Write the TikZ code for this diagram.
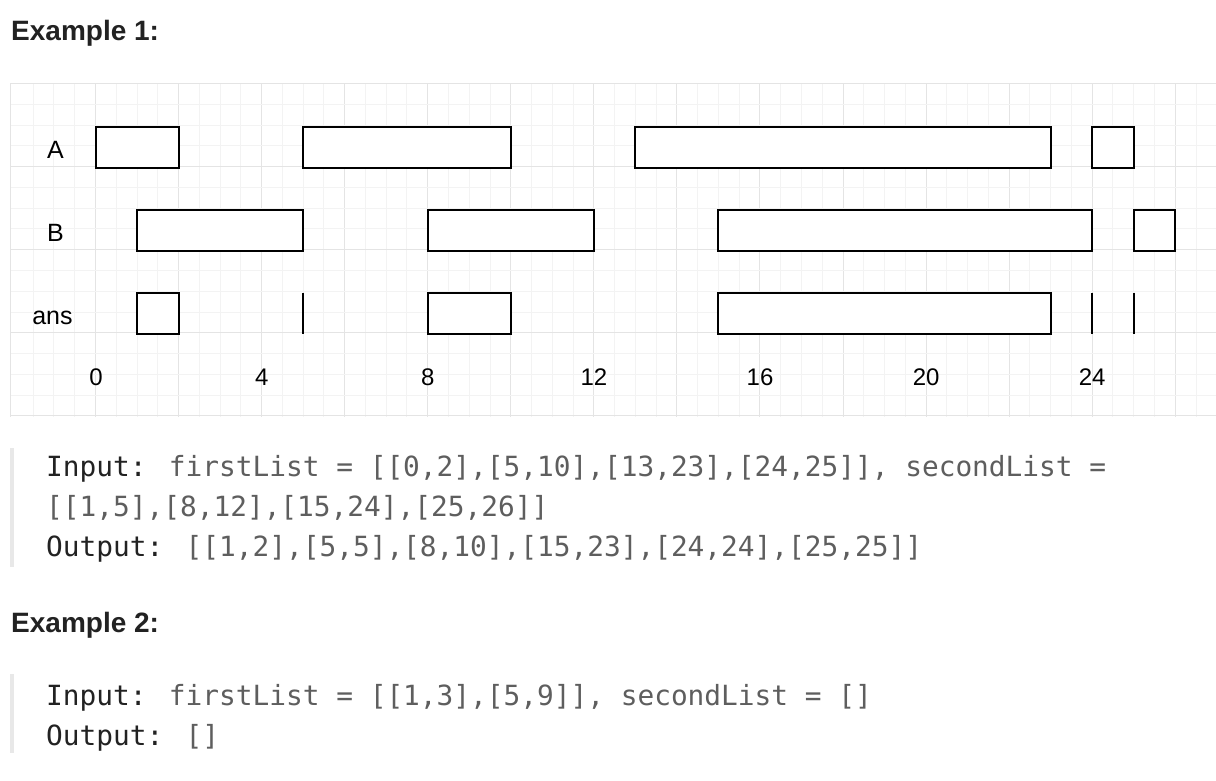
\documentclass[tikz,border=0pt]{standalone}
\usepackage{fontspec}
\setmainfont{Liberation Sans}
\newfontfamily\codefont{DejaVu Sans Mono}
\definecolor{gridminor}{HTML}{F3F3F3}
\definecolor{gridmajor}{HTML}{E4E4E4}
\definecolor{kw}{HTML}{222222}
\definecolor{codegray}{HTML}{5E5E5E}
\definecolor{barcol}{HTML}{E8E8E8}
\tikzset{
  gminor/.style={draw=gridminor, line width=1pt},
  gmajor/.style={draw=gridmajor, line width=1pt},
  ivbox/.style={draw=black, line width=2pt, fill=white, inner sep=0pt, outer sep=0pt, minimum height=41pt, anchor=north west},
  seg/.style={draw=black, line width=2pt},
  rowlabel/.style={anchor=base, inner sep=0pt, font=\fontsize{25}{30}\selectfont, text=black},
  ticklabel/.style={anchor=base, inner sep=0pt, font=\fontsize{24}{28}\selectfont, text=black},
  heading/.style={anchor=base west, inner sep=0pt, font=\fontsize{28}{34}\selectfont\bfseries, text=kw},
  codeline/.style={anchor=base west, inner sep=0pt, font=\fontsize{27.8}{34}\selectfont\codefont, text=codegray},
  quotebar/.style={draw=barcol, line width=3.5pt}
}
\newcommand{\kwd}[1]{\textcolor{kw}{#1}}
\begin{document}
\begin{tikzpicture}[x=1pt,y=-1pt]
\useasboundingbox[fill=white] (0,0) rectangle (1216,780);
% grid
\begin{scope}
\clip (10,83) rectangle (1216,416.5);
\foreach \k in {-3,...,53} {
  \pgfmathtruncatemacro{\m}{mod(\k+400,4)}
  \pgfmathsetmacro{\xx}{floor(95.5+20.765*\k)+0.5}
  \ifnum\m=0
    \draw[gmajor] (\xx,83) -- (\xx,416.5);
  \else
    \draw[gminor] (\xx,83) -- (\xx,416.5);
  \fi
}
\foreach \k in {0,...,16} {
  \pgfmathtruncatemacro{\m}{mod(\k,4)}
  \pgfmathsetmacro{\yy}{floor(83.5+20.78*\k)+0.5}
  \ifnum\m=0
    \draw[gmajor] (10,\yy) -- (1216,\yy);
  \else
    \draw[gminor] (10,\yy) -- (1216,\yy);
  \fi
}
\draw[gmajor] (10.5,83) -- (10.5,416.5);
\end{scope}
% headings
\node[heading] (ex1) at (11,40) {Example 1:};
\node[heading] (ex2) at (11,632) {Example 2:};
% row labels
\node[rowlabel] (labA) at (55.5,158.3) {A};
\node[rowlabel] (labB) at (55.5,241.7) {B};
\node[rowlabel] (labans) at (52.5,324.3) {ans};
% A intervals
\node[ivbox, minimum width=83.06pt] (a1) at (95.5,126.5) {};
\node[ivbox, minimum width=207.65pt] (a2) at (303.15,126.5) {};
\node[ivbox, minimum width=415.3pt] (a3) at (635.39,126.5) {};
\node[ivbox, minimum width=41.53pt] (a4) at (1092.22,126.5) {};
% B intervals
\node[ivbox, minimum width=166.12pt] (b1) at (137.03,209.6) {};
\node[ivbox, minimum width=166.12pt] (b2) at (427.74,209.6) {};
\node[ivbox, minimum width=373.77pt] (b3) at (718.45,209.6) {};
\node[ivbox, minimum width=41.53pt] (b4) at (1133.75,209.6) {};
% ans intervals
\node[ivbox, minimum width=41.53pt] (c1) at (137.03,292.7) {};
\node[ivbox, minimum width=83.06pt] (c3) at (427.74,292.7) {};
\node[ivbox, minimum width=332.24pt] (c4) at (718.45,292.7) {};
\coordinate (c2t) at (303.15,292.7);
\coordinate (c2b) at (303.15,333.7);
\coordinate (c5t) at (1092.22,292.7);
\coordinate (c5b) at (1092.22,333.7);
\coordinate (c6t) at (1133.75,292.7);
\coordinate (c6b) at (1133.75,333.7);
\draw[seg] (c2t) -- (c2b);
\draw[seg] (c5t) -- (c5b);
\draw[seg] (c6t) -- (c6b);
% tick labels
\node[ticklabel] (t0) at (96,385) {0};
\node[ticklabel] (t4) at (261.7,385) {4};
\node[ticklabel] (t8) at (427.8,385) {8};
\node[ticklabel] (t12) at (593.9,385) {12};
\node[ticklabel] (t16) at (760,385) {16};
\node[ticklabel] (t20) at (926.1,385) {20};
\node[ticklabel] (t24) at (1092.2,385) {24};
% code block 1
\coordinate (bar1t) at (12,448);
\coordinate (bar1b) at (12,567);
\draw[quotebar] (bar1t) -- (bar1b);
\node[codeline] (l1) at (46,476.7) {\kwd{Input:} firstList = [[0,2],[5,10],[13,23],[24,25]], secondList =};
\node[codeline] (l2) at (46,516.7) {[[1,5],[8,12],[15,24],[25,26]]};
\node[codeline] (l3) at (46,556.7) {\kwd{Output:} [[1,2],[5,5],[8,10],[15,23],[24,24],[25,25]]};
% code block 2
\coordinate (bar2t) at (12,674);
\coordinate (bar2b) at (12,753);
\draw[quotebar] (bar2t) -- (bar2b);
\node[codeline] (m1) at (46,705.7) {\kwd{Input:} firstList = [[1,3],[5,9]], secondList = []};
\node[codeline] (m2) at (46,745.7) {\kwd{Output:} []};
\end{tikzpicture}
\end{document}
